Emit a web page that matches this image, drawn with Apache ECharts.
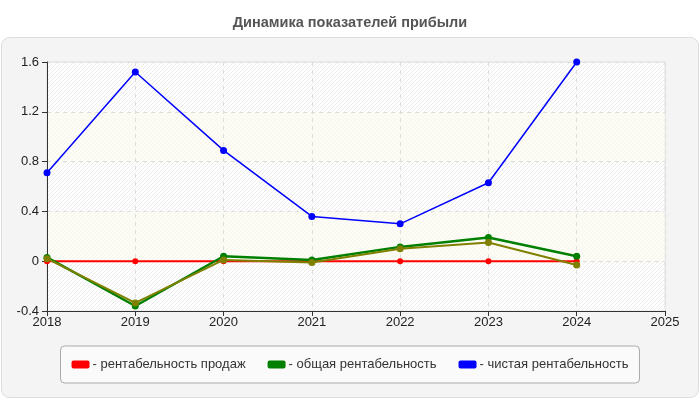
<!DOCTYPE html>
<html>
<head>
<meta charset="utf-8">
<script src="https://cdn.jsdelivr.net/npm/echarts@6/dist/echarts.min.js"></script>
<style>
  html, body { margin: 0; padding: 0; background: #fff; }
  #chart { width: 700px; height: 400px; }
</style>
</head>
<body>
<div id="chart"></div>
<script>
const years = [2018, 2019, 2020, 2021, 2022, 2023, 2024];
const salesProfitability = [0, 0, 0, 0, 0, 0, 0];
const totalProfitability = [0.03, -0.36, 0.04, 0.01, 0.115, 0.19, 0.04];
const extraProfitability = [0.02, -0.335, 0.01, -0.01, 0.10, 0.15, -0.03];
const netProfitability = [0.71, 1.52, 0.89, 0.36, 0.30, 0.63, 1.6];

const FONT = "Liberation Sans, Arial, sans-serif";

function hatchPattern() {
  const c = document.createElement("canvas");
  c.width = 4;
  c.height = 4;
  const ctx = c.getContext("2d");
  ctx.fillStyle = "#ffffff";
  ctx.fillRect(0, 0, 4, 4);
  ctx.strokeStyle = "#ececec";
  ctx.lineWidth = 1;
  ctx.beginPath();
  ctx.moveTo(0, 4);
  ctx.lineTo(4, 0);
  ctx.moveTo(-1, 1);
  ctx.lineTo(1, -1);
  ctx.moveTo(3, 5);
  ctx.lineTo(5, 3);
  ctx.stroke();
  return c;
}

function pairs(values) {
  return years.map((y, i) => [y, values[i]]);
}

const chart = echarts.init(document.getElementById("chart"), null, { renderer: "canvas" });

chart.setOption({
  animation: false,
  textStyle: { fontFamily: FONT },
  title: {
    text: "Динамика показателей прибыли",
    left: "center",
    top: 10,
    textStyle: { fontSize: 14.5, fontWeight: "bold", color: "#555", fontFamily: FONT }
  },
  graphic: [{
    type: "rect",
    z: -10,
    shape: { x: 1.5, y: 37.5, width: 697, height: 360, r: 8 },
    style: { fill: "#f4f4f4", stroke: "#dddddd", lineWidth: 1 }
  }],
  grid: {
    left: 47, right: 35, top: 62, bottom: 89,
    show: true,
    backgroundColor: { image: hatchPattern(), repeat: "repeat" },
    borderColor: "#e0e0e0",
    borderWidth: 1
  },
  legend: {
    bottom: 17,
    left: "center",
    data: ["рентабельность продаж", "общая рентабельность", "чистая рентабельность"],
    icon: "roundRect",
    itemWidth: 18,
    itemHeight: 8,
    itemGap: 22,
    padding: [12, 11, 12, 11],
    backgroundColor: "#fafafa",
    borderColor: "#aaaaaa",
    borderWidth: 1,
    borderRadius: 4,
    formatter: (name) => "- " + name,
    textStyle: { color: "#333", fontSize: 13, padding: [0, 0, 0, -2] }
  },
  xAxis: {
    type: "value",
    min: 2018,
    max: 2025,
    interval: 1,
    axisLine: { onZero: false, lineStyle: { color: "#333" } },
    axisTick: { length: 5, lineStyle: { color: "#333" } },
    axisLabel: { color: "#222", fontSize: 13, margin: 5, formatter: (v) => String(v) },
    splitLine: { show: true, lineStyle: { color: "#dddddd", type: [4, 4] } }
  },
  yAxis: {
    type: "value",
    min: -0.4,
    max: 1.6,
    interval: 0.4,
    axisLine: { show: true, lineStyle: { color: "#333" } },
    axisTick: { show: true, length: 5, lineStyle: { color: "#333" } },
    axisLabel: { color: "#222", fontSize: 13, margin: 8 },
    splitLine: { show: true, lineStyle: { color: "#dddddd", type: [4, 4] } },
    splitArea: { show: true, areaStyle: { color: ["rgba(0,0,0,0)", "rgba(252,252,240,0.6)"] } }
  },
  series: [
    {
      name: "рентабельность продаж",
      type: "line",
      data: pairs(salesProfitability),
      color: "#ff0000",
      symbol: "circle",
      symbolSize: 6,
      lineStyle: { width: 2 },
      z: 2
    },
    {
      name: "общая рентабельность",
      type: "line",
      data: pairs(totalProfitability),
      color: "#008000",
      symbol: "circle",
      symbolSize: 7,
      lineStyle: { width: 2.5 },
      z: 3
    },
    {
      name: "прочее",
      type: "line",
      data: pairs(extraProfitability),
      color: "#808000",
      symbol: "circle",
      symbolSize: 7,
      lineStyle: { width: 2 },
      z: 4
    },
    {
      name: "чистая рентабельность",
      type: "line",
      data: pairs(netProfitability),
      color: "#0000ff",
      symbol: "circle",
      symbolSize: 7,
      lineStyle: { width: 1.5 },
      z: 5
    }
  ]
});
</script>
</body>
</html>
